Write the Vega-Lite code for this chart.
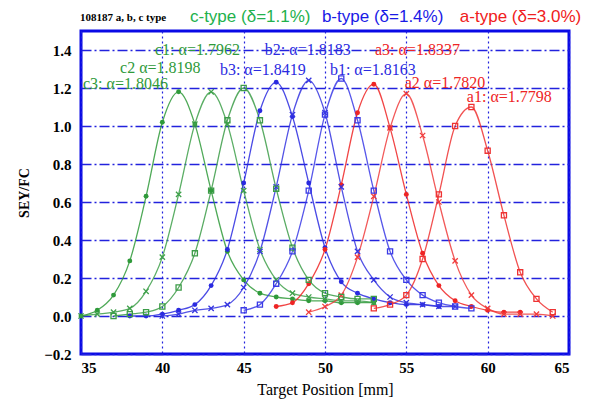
{
  "$schema": "https://vega.github.io/schema/vega-lite/v6.json",
  "width": 488,
  "height": 323,
  "autosize": {"type": "none"},
  "padding": {"left": 81, "top": 31, "right": 35, "bottom": 46},
  "background": "white",
  "config": {
    "view": {"stroke": "#0a0ae6", "strokeWidth": 3},
    "axis": {"domain": false, "ticks": false, "labelFont": "Liberation Serif", "labelFontWeight": "bold", "labelColor": "black", "titleFont": "Liberation Serif", "titleColor": "black"}
  },
  "datasets": {
    "pts": [
      {"curve":"c3","type":"c","num":3,"x":35,"y":0.00},{"curve":"c3","type":"c","num":3,"x":36,"y":0.03},{"curve":"c3","type":"c","num":3,"x":37,"y":0.11},{"curve":"c3","type":"c","num":3,"x":38,"y":0.29},{"curve":"c3","type":"c","num":3,"x":39,"y":0.63},{"curve":"c3","type":"c","num":3,"x":40,"y":1.02},{"curve":"c3","type":"c","num":3,"x":41,"y":1.18},{"curve":"c3","type":"c","num":3,"x":42,"y":1.01},{"curve":"c3","type":"c","num":3,"x":43,"y":0.66},{"curve":"c3","type":"c","num":3,"x":44,"y":0.34},{"curve":"c3","type":"c","num":3,"x":45,"y":0.19},{"curve":"c3","type":"c","num":3,"x":46,"y":0.12},{"curve":"c3","type":"c","num":3,"x":47,"y":0.10},{"curve":"c3","type":"c","num":3,"x":48,"y":0.09},{"curve":"c3","type":"c","num":3,"x":49,"y":0.08},{"curve":"c3","type":"c","num":3,"x":50,"y":0.08},{"curve":"c3","type":"c","num":3,"x":51,"y":0.07},{"curve":"c3","type":"c","num":3,"x":52,"y":0.07},{"curve":"c3","type":"c","num":3,"x":53,"y":0.07},
      {"curve":"c2","type":"c","num":2,"x":35,"y":0.00},{"curve":"c2","type":"c","num":2,"x":36,"y":0.01},{"curve":"c2","type":"c","num":2,"x":37,"y":0.02},{"curve":"c2","type":"c","num":2,"x":38,"y":0.04},{"curve":"c2","type":"c","num":2,"x":39,"y":0.13},{"curve":"c2","type":"c","num":2,"x":40,"y":0.31},{"curve":"c2","type":"c","num":2,"x":41,"y":0.64},{"curve":"c2","type":"c","num":2,"x":42,"y":1.01},{"curve":"c2","type":"c","num":2,"x":43,"y":1.18},{"curve":"c2","type":"c","num":2,"x":44,"y":1.01},{"curve":"c2","type":"c","num":2,"x":45,"y":0.66},{"curve":"c2","type":"c","num":2,"x":46,"y":0.35},{"curve":"c2","type":"c","num":2,"x":47,"y":0.19},{"curve":"c2","type":"c","num":2,"x":48,"y":0.12},{"curve":"c2","type":"c","num":2,"x":49,"y":0.10},{"curve":"c2","type":"c","num":2,"x":50,"y":0.09},{"curve":"c2","type":"c","num":2,"x":51,"y":0.08},{"curve":"c2","type":"c","num":2,"x":52,"y":0.08},{"curve":"c2","type":"c","num":2,"x":53,"y":0.07},
      {"curve":"c1","type":"c","num":1,"x":37,"y":0.00},{"curve":"c1","type":"c","num":1,"x":38,"y":0.01},{"curve":"c1","type":"c","num":1,"x":39,"y":0.02},{"curve":"c1","type":"c","num":1,"x":40,"y":0.05},{"curve":"c1","type":"c","num":1,"x":41,"y":0.15},{"curve":"c1","type":"c","num":1,"x":42,"y":0.33},{"curve":"c1","type":"c","num":1,"x":43,"y":0.66},{"curve":"c1","type":"c","num":1,"x":44,"y":1.03},{"curve":"c1","type":"c","num":1,"x":45,"y":1.20},{"curve":"c1","type":"c","num":1,"x":46,"y":1.03},{"curve":"c1","type":"c","num":1,"x":47,"y":0.67},{"curve":"c1","type":"c","num":1,"x":48,"y":0.36},{"curve":"c1","type":"c","num":1,"x":49,"y":0.19},{"curve":"c1","type":"c","num":1,"x":50,"y":0.12},{"curve":"c1","type":"c","num":1,"x":51,"y":0.10},{"curve":"c1","type":"c","num":1,"x":52,"y":0.09},{"curve":"c1","type":"c","num":1,"x":53,"y":0.09},
      {"curve":"b3","type":"b","num":3,"x":38,"y":0.00},{"curve":"b3","type":"b","num":3,"x":39,"y":0.00},{"curve":"b3","type":"b","num":3,"x":40,"y":0.01},{"curve":"b3","type":"b","num":3,"x":41,"y":0.03},{"curve":"b3","type":"b","num":3,"x":42,"y":0.06},{"curve":"b3","type":"b","num":3,"x":43,"y":0.16},{"curve":"b3","type":"b","num":3,"x":44,"y":0.35},{"curve":"b3","type":"b","num":3,"x":45,"y":0.70},{"curve":"b3","type":"b","num":3,"x":46,"y":1.08},{"curve":"b3","type":"b","num":3,"x":47,"y":1.23},{"curve":"b3","type":"b","num":3,"x":48,"y":1.05},{"curve":"b3","type":"b","num":3,"x":49,"y":0.70},{"curve":"b3","type":"b","num":3,"x":50,"y":0.36},{"curve":"b3","type":"b","num":3,"x":51,"y":0.18},{"curve":"b3","type":"b","num":3,"x":52,"y":0.12},{"curve":"b3","type":"b","num":3,"x":53,"y":0.09},{"curve":"b3","type":"b","num":3,"x":54,"y":0.07},{"curve":"b3","type":"b","num":3,"x":55,"y":0.06},{"curve":"b3","type":"b","num":3,"x":56,"y":0.06},{"curve":"b3","type":"b","num":3,"x":57,"y":0.05},
      {"curve":"b2","type":"b","num":2,"x":40,"y":0.00},{"curve":"b2","type":"b","num":2,"x":41,"y":0.01},{"curve":"b2","type":"b","num":2,"x":42,"y":0.03},{"curve":"b2","type":"b","num":2,"x":43,"y":0.04},{"curve":"b2","type":"b","num":2,"x":44,"y":0.06},{"curve":"b2","type":"b","num":2,"x":45,"y":0.15},{"curve":"b2","type":"b","num":2,"x":46,"y":0.34},{"curve":"b2","type":"b","num":2,"x":47,"y":0.68},{"curve":"b2","type":"b","num":2,"x":48,"y":1.06},{"curve":"b2","type":"b","num":2,"x":49,"y":1.24},{"curve":"b2","type":"b","num":2,"x":50,"y":1.07},{"curve":"b2","type":"b","num":2,"x":51,"y":0.68},{"curve":"b2","type":"b","num":2,"x":52,"y":0.34},{"curve":"b2","type":"b","num":2,"x":53,"y":0.19},{"curve":"b2","type":"b","num":2,"x":54,"y":0.10},{"curve":"b2","type":"b","num":2,"x":55,"y":0.07},{"curve":"b2","type":"b","num":2,"x":56,"y":0.06},{"curve":"b2","type":"b","num":2,"x":57,"y":0.05},{"curve":"b2","type":"b","num":2,"x":58,"y":0.05},
      {"curve":"b1","type":"b","num":1,"x":45,"y":0.03},{"curve":"b1","type":"b","num":1,"x":46,"y":0.06},{"curve":"b1","type":"b","num":1,"x":47,"y":0.17},{"curve":"b1","type":"b","num":1,"x":48,"y":0.34},{"curve":"b1","type":"b","num":1,"x":49,"y":0.66},{"curve":"b1","type":"b","num":1,"x":50,"y":1.06},{"curve":"b1","type":"b","num":1,"x":51,"y":1.25},{"curve":"b1","type":"b","num":1,"x":52,"y":1.03},{"curve":"b1","type":"b","num":1,"x":53,"y":0.66},{"curve":"b1","type":"b","num":1,"x":54,"y":0.34},{"curve":"b1","type":"b","num":1,"x":55,"y":0.19},{"curve":"b1","type":"b","num":1,"x":56,"y":0.11},{"curve":"b1","type":"b","num":1,"x":57,"y":0.07},{"curve":"b1","type":"b","num":1,"x":58,"y":0.05},{"curve":"b1","type":"b","num":1,"x":59,"y":0.04},
      {"curve":"a3","type":"a","num":3,"x":47,"y":0.05},{"curve":"a3","type":"a","num":3,"x":48,"y":0.07},{"curve":"a3","type":"a","num":3,"x":49,"y":0.17},{"curve":"a3","type":"a","num":3,"x":50,"y":0.35},{"curve":"a3","type":"a","num":3,"x":51,"y":0.69},{"curve":"a3","type":"a","num":3,"x":52,"y":1.07},{"curve":"a3","type":"a","num":3,"x":53,"y":1.22},{"curve":"a3","type":"a","num":3,"x":54,"y":0.99},{"curve":"a3","type":"a","num":3,"x":55,"y":0.64},{"curve":"a3","type":"a","num":3,"x":56,"y":0.33},{"curve":"a3","type":"a","num":3,"x":57,"y":0.16},{"curve":"a3","type":"a","num":3,"x":58,"y":0.08},{"curve":"a3","type":"a","num":3,"x":59,"y":0.05},{"curve":"a3","type":"a","num":3,"x":60,"y":0.03},{"curve":"a3","type":"a","num":3,"x":61,"y":0.02},{"curve":"a3","type":"a","num":3,"x":62,"y":0.02},
      {"curve":"a2","type":"a","num":2,"x":49,"y":0.02},{"curve":"a2","type":"a","num":2,"x":50,"y":0.05},{"curve":"a2","type":"a","num":2,"x":51,"y":0.11},{"curve":"a2","type":"a","num":2,"x":52,"y":0.31},{"curve":"a2","type":"a","num":2,"x":53,"y":0.63},{"curve":"a2","type":"a","num":2,"x":54,"y":0.99},{"curve":"a2","type":"a","num":2,"x":55,"y":1.17},{"curve":"a2","type":"a","num":2,"x":56,"y":0.95},{"curve":"a2","type":"a","num":2,"x":57,"y":0.60},{"curve":"a2","type":"a","num":2,"x":58,"y":0.29},{"curve":"a2","type":"a","num":2,"x":59,"y":0.11},{"curve":"a2","type":"a","num":2,"x":60,"y":0.04},{"curve":"a2","type":"a","num":2,"x":61,"y":0.01},{"curve":"a2","type":"a","num":2,"x":62,"y":0.01},{"curve":"a2","type":"a","num":2,"x":63,"y":0.01},{"curve":"a2","type":"a","num":2,"x":64,"y":0.00},
      {"curve":"a1","type":"a","num":1,"x":53,"y":0.04},{"curve":"a1","type":"a","num":1,"x":54,"y":0.06},{"curve":"a1","type":"a","num":1,"x":55,"y":0.11},{"curve":"a1","type":"a","num":1,"x":56,"y":0.30},{"curve":"a1","type":"a","num":1,"x":57,"y":0.64},{"curve":"a1","type":"a","num":1,"x":58,"y":1.00},{"curve":"a1","type":"a","num":1,"x":59,"y":1.10},{"curve":"a1","type":"a","num":1,"x":60,"y":0.87},{"curve":"a1","type":"a","num":1,"x":61,"y":0.53},{"curve":"a1","type":"a","num":1,"x":62,"y":0.23},{"curve":"a1","type":"a","num":1,"x":63,"y":0.09},{"curve":"a1","type":"a","num":1,"x":64,"y":0.02}
    ],
    "labels": [
      {"x":39.55,"y":1.40,"t":"c1: α=1.7962","type":"c"},
      {"x":46.3,"y":1.40,"t":"b2: α=1.8183","type":"b"},
      {"x":53.07,"y":1.40,"t":"a3: α=1.8337","type":"a"},
      {"x":37.4,"y":1.305,"t":"c2 α=1.8198","type":"c"},
      {"x":43.54,"y":1.295,"t":"b3: α=1.8419","type":"b"},
      {"x":50.3,"y":1.295,"t":"b1: α=1.8163","type":"b"},
      {"x":35.12,"y":1.22,"t":"c3: α=1.8046","type":"c"},
      {"x":54.9,"y":1.226,"t":"a2 α=1.7820","type":"a"},
      {"x":58.72,"y":1.153,"t":"a1: α=1.7798","type":"a"}
    ],
    "titles": [
      {"x":41.7,"y":1.574,"t":"c-type (δ=1.1%)","type":"c"},
      {"x":49.81,"y":1.574,"t":"b-type (δ=1.4%)","type":"b"},
      {"x":58.29,"y":1.574,"t":"a-type (δ=3.0%)","type":"a"}
    ],
    "note": [
      {"x":34.94,"y":1.57,"t":"108187 a, b, c type"}
    ]
  },
  "layer": [
    {
      "data": {"name": "pts"},
      "mark": {"type": "line", "interpolate": "monotone", "strokeWidth": 1.3, "opacity": 0.85},
      "encoding": {
        "x": {"field": "x", "type": "quantitative", "scale": {"domain": [35, 65], "nice": false, "zero": false},
              "axis": {"values": [35, 40, 45, 50, 55, 60, 65], "title": "Target Position [mm]", "titleFontSize": 16, "titleFontWeight": "normal", "titlePadding": 6, "labelFontSize": 15, "labelPadding": 6,
                       "grid": true, "gridColor": "#2222dd", "gridDash": [2, 3], "gridWidth": 1.2, "gridOpacity": 1}},
        "y": {"field": "y", "type": "quantitative", "scale": {"domain": [-0.2, 1.5], "nice": false, "zero": false},
              "axis": {"values": [-0.2, 0, 0.2, 0.4, 0.6, 0.8, 1, 1.2, 1.4], "title": "SEY/FC", "titleFontSize": 14, "titleFontWeight": "bold", "titlePadding": 12, "labelFontSize": 15, "labelPadding": 10,
                       "grid": true, "gridColor": "#2222dd", "gridDash": [10, 3, 2, 3], "gridWidth": 1.5, "gridOpacity": 1}},
        "color": {"field": "curve", "type": "nominal", "legend": null,
                  "scale": {"domain": ["c3","c2","c1","b3","b2","b1","a3","a2","a1"],
                            "range": ["#2f9a3a","#3ea04a","#3c9c48","#2a2ae0","#3434e0","#3a3ae6","#ee2424","#f03c3c","#ee3232"]}},
        "detail": {"field": "curve"}
      }
    },
    {
      "data": {"name": "pts"},
      "transform": [{"filter": "datum.num == 3"}],
      "mark": {"type": "point", "shape": "circle", "filled": true, "size": 24, "opacity": 1},
      "encoding": {
        "x": {"field": "x", "type": "quantitative"},
        "y": {"field": "y", "type": "quantitative"},
        "color": {"field": "curve", "type": "nominal", "legend": null,
                  "scale": {"domain": ["c3","c2","c1","b3","b2","b1","a3","a2","a1"],
                            "range": ["#2f9a3a","#3ea04a","#3c9c48","#2a2ae0","#3434e0","#3a3ae6","#ee2424","#f03c3c","#ee3232"]}}
      }
    },
    {
      "data": {"name": "pts"},
      "transform": [{"filter": "datum.num == 2"}],
      "mark": {"type": "point", "shape": "M-1,-1L1,1M-1,1L1,-1", "filled": false, "size": 28, "strokeWidth": 1.3, "opacity": 1},
      "encoding": {
        "x": {"field": "x", "type": "quantitative"},
        "y": {"field": "y", "type": "quantitative"},
        "color": {"field": "curve", "type": "nominal", "legend": null,
                  "scale": {"domain": ["c3","c2","c1","b3","b2","b1","a3","a2","a1"],
                            "range": ["#2f9a3a","#3ea04a","#3c9c48","#2a2ae0","#3434e0","#3a3ae6","#ee2424","#f03c3c","#ee3232"]}}
      }
    },
    {
      "data": {"name": "pts"},
      "transform": [{"filter": "datum.num == 1"}],
      "mark": {"type": "point", "shape": "square", "filled": false, "size": 26, "strokeWidth": 1.3, "opacity": 1},
      "encoding": {
        "x": {"field": "x", "type": "quantitative"},
        "y": {"field": "y", "type": "quantitative"},
        "color": {"field": "curve", "type": "nominal", "legend": null,
                  "scale": {"domain": ["c3","c2","c1","b3","b2","b1","a3","a2","a1"],
                            "range": ["#2f9a3a","#3ea04a","#3c9c48","#2a2ae0","#3434e0","#3a3ae6","#ee2424","#f03c3c","#ee3232"]}}
      }
    },
    {
      "data": {"name": "labels"},
      "mark": {"type": "text", "align": "left", "baseline": "middle", "font": "Liberation Serif", "fontSize": 16},
      "encoding": {
        "x": {"field": "x", "type": "quantitative"},
        "y": {"field": "y", "type": "quantitative"},
        "text": {"field": "t"},
        "color": {"field": "type", "type": "nominal", "legend": null, "scale": {"domain": ["c","b","a"], "range": ["#2f9a3a","#2a2ae0","#ee2424"]}}
      }
    },
    {
      "data": {"name": "titles"},
      "mark": {"type": "text", "align": "left", "baseline": "middle", "font": "Liberation Sans", "fontSize": 17},
      "encoding": {
        "x": {"field": "x", "type": "quantitative"},
        "y": {"field": "y", "type": "quantitative"},
        "text": {"field": "t"},
        "color": {"field": "type", "type": "nominal", "legend": null, "scale": {"domain": ["c","b","a"], "range": ["#22b14c","#1a1ae6","#f02020"]}}
      }
    },
    {
      "data": {"name": "note"},
      "mark": {"type": "text", "align": "left", "baseline": "middle", "font": "Liberation Serif", "fontSize": 11, "fontWeight": "bold", "color": "black"},
      "encoding": {
        "x": {"field": "x", "type": "quantitative"},
        "y": {"field": "y", "type": "quantitative"},
        "text": {"field": "t"}
      }
    }
  ],
  "resolve": {"scale": {"color": "independent"}}
}
